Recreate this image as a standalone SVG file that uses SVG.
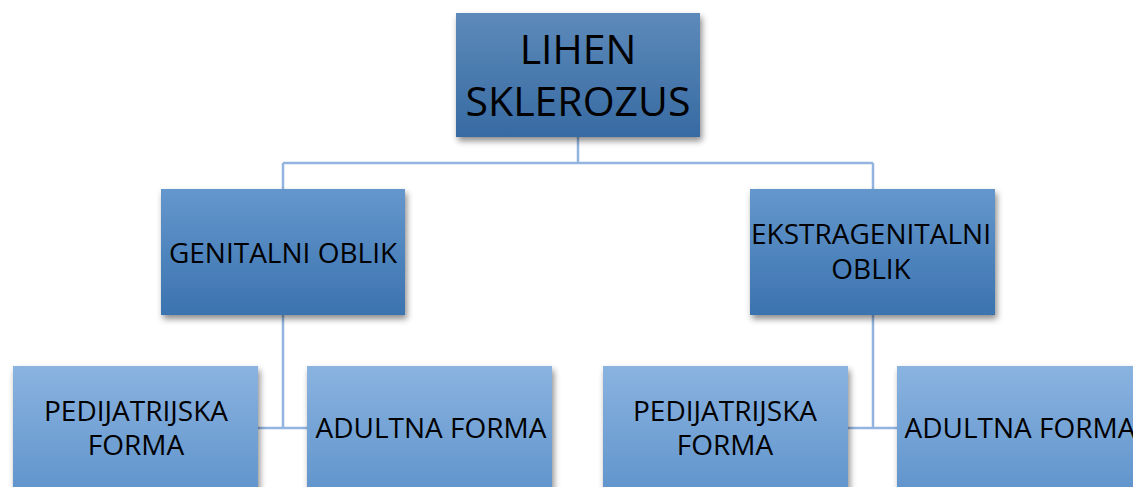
<svg xmlns="http://www.w3.org/2000/svg" width="1133" height="487" viewBox="0 0 1133 487">
<defs>
<linearGradient id="g0" x1="0" y1="0" x2="0" y2="1"><stop offset="0" stop-color="#5d8aba"/><stop offset="1" stop-color="#376aa2"/></linearGradient>
<linearGradient id="g1" x1="0" y1="0" x2="0" y2="1"><stop offset="0" stop-color="#6497cc"/><stop offset="1" stop-color="#3b73b0"/></linearGradient>
<linearGradient id="g2" x1="0" y1="0" x2="0" y2="1"><stop offset="0" stop-color="#8ab3e0"/><stop offset="1" stop-color="#5f93cb"/></linearGradient>
<filter id="sh" x="-10%" y="-10%" width="125%" height="130%"><feDropShadow dx="2" dy="4" stdDeviation="3" flood-color="#000" flood-opacity="0.45"/></filter>
<style>
.t{font-family:"Open Sans","Liberation Sans",sans-serif;fill:#000;text-anchor:middle;font-size:28px}
.big{font-size:41px}
.c{fill:none;stroke:#92b4de;stroke-width:2.5}
</style>
</defs>
<g id="connectors">
<path class="c" d="M578 137V163M283 163H873M283 163V189M873 163V189"/>
<path class="c" d="M283 315V428M258 428H307"/>
<path class="c" d="M873 315V428M848 428H897"/>
</g>
<g id="n-root"><rect x="456" y="13" width="244" height="124" fill="url(#g0)" filter="url(#sh)"/>
<text class="t big" x="578" y="64">LIHEN</text><text class="t big" x="578" y="116">SKLEROZUS</text></g>
<g id="n-gen"><rect x="161" y="189" width="244" height="126" fill="url(#g1)" filter="url(#sh)"/>
<text class="t" x="283" y="263">GENITALNI OBLIK</text></g>
<g id="n-ext"><rect x="750" y="189" width="245" height="126" fill="url(#g1)" filter="url(#sh)"/>
<text class="t" x="871" y="244">EKSTRAGENITALNI</text><text class="t" x="871" y="279">OBLIK</text></g>
<g id="n-ped1"><rect x="13" y="366" width="245" height="130" fill="url(#g2)" filter="url(#sh)"/>
<text class="t" x="136" y="421">PEDIJATRIJSKA</text><text class="t" x="136" y="455">FORMA</text></g>
<g id="n-adu1"><rect x="307" y="366" width="245" height="130" fill="url(#g2)" filter="url(#sh)"/>
<text class="t" x="431" y="438">ADULTNA FORMA</text></g>
<g id="n-ped2"><rect x="603" y="366" width="245" height="130" fill="url(#g2)" filter="url(#sh)"/>
<text class="t" x="725" y="421">PEDIJATRIJSKA</text><text class="t" x="725" y="455">FORMA</text></g>
<g id="n-adu2"><rect x="897" y="366" width="245" height="130" fill="url(#g2)" filter="url(#sh)"/>
<text class="t" x="1020" y="438">ADULTNA FORMA</text></g>
</svg>
